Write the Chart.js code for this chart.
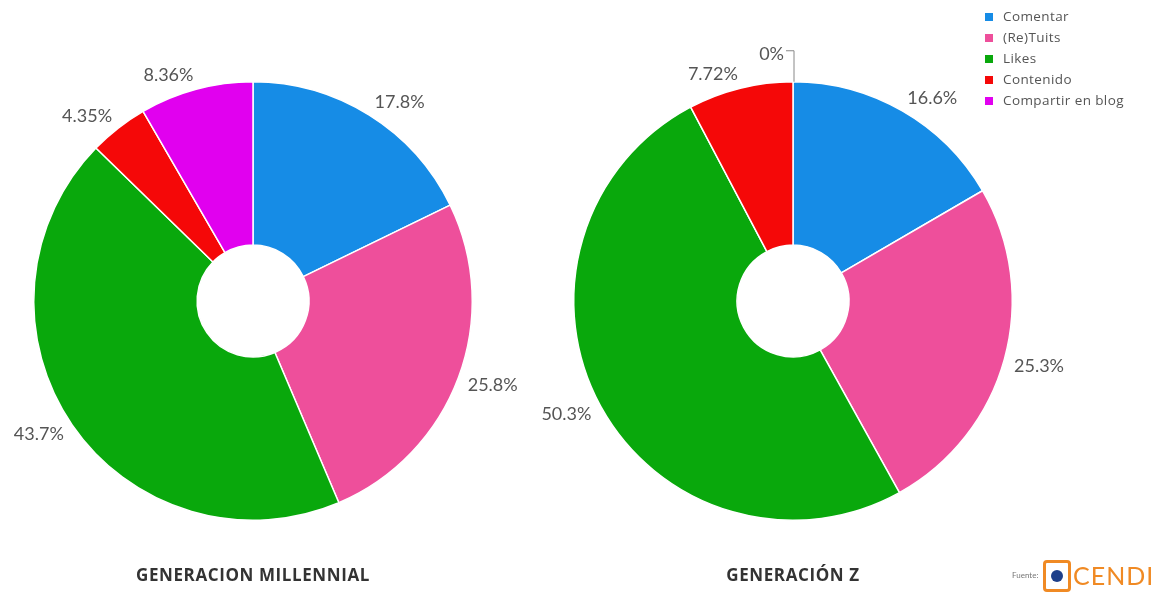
<!DOCTYPE html>
<html>
<head>
<meta charset="utf-8">
<script src="https://cdn.jsdelivr.net/npm/chart.js@4.4.1/dist/chart.umd.min.js"></script>
<style>
  body { margin: 0; background: #fff; width: 1151px; height: 601px; position: relative; overflow: hidden; font-family: Lato, "Open Sans", sans-serif; }
  canvas { position: absolute; top: 0; }
  #grafMillennial { left: 0; }
  #grafZ { left: 540px; }
  #leyenda { position: absolute; left: 985px; top: 6px; font-family: "Open Sans", sans-serif; font-size: 13.5px; letter-spacing: 0.4px; color: #555; }
  #leyenda div { height: 21px; line-height: 21px; white-space: nowrap; }
  #leyenda span { display: inline-block; width: 8px; height: 8px; margin-right: 10px; vertical-align: 0px; }
  #fuente { position: absolute; left: 1012px; top: 570px; font-size: 8px; color: #777; }
  #logo { position: absolute; left: 1043px; top: 560px; width: 22px; height: 26px; border: 3px solid #f08a24; border-radius: 4px; }
  #logo i { position: absolute; left: 5px; top: 7px; width: 12px; height: 12px; border-radius: 50%; background: #1d3f8a; }
  #cendi { position: absolute; left: 1073px; top: 560px; font-size: 25px; color: #f08a24; letter-spacing: 1px; }
</style>
</head>
<body>
<canvas id="grafMillennial" width="540" height="601"></canvas>
<canvas id="grafZ" width="611" height="601"></canvas>
<div id="leyenda"></div>
<div id="fuente">Fuente:</div>
<div id="logo"><i></i></div>
<div id="cendi">CENDI</div>
<script>
var categorias = ["Comentar", "(Re)Tuits", "Likes", "Contenido", "Compartir en blog"];
var millennial = [17.8, 25.8, 43.7, 4.35, 8.36];
var generacionZ = [16.6, 25.3, 50.3, 7.72, 0];
var colores = ["#168ce6", "#ee4f9b", "#09a80c", "#f50808", "#e100ef"];
var titulos = ["GENERACION MILLENNIAL", "GENERACIÓN Z"];

// leyenda en html
var leyenda = document.getElementById("leyenda");
categorias.forEach(function (c, i) {
  var fila = document.createElement("div");
  fila.innerHTML = '<span style="background:' + colores[i] + '"></span>' + c;
  leyenda.appendChild(fila);
});

// etiquetas de porcentaje fuera de cada porcion + titulo abajo
var etiquetas = {
  id: "etiquetas",
  afterDraw: function (chart) {
    var ctx = chart.ctx;
    var meta = chart.getDatasetMeta(0);
    var valores = chart.data.datasets[0].data;
    ctx.save();
    ctx.font = "18px Lato";
    ctx.fillStyle = "#555";
    ctx.textBaseline = "middle";
    meta.data.forEach(function (arc, i) {
      var txt = valores[i] + "%";
      var r = arc.outerRadius;
      if (valores[i] === 0) {
        var xTop = arc.x + 1, yTop = arc.y - r;
        ctx.strokeStyle = "#888";
        ctx.lineWidth = 1;
        ctx.beginPath();
        ctx.moveTo(xTop, yTop);
        ctx.lineTo(xTop, yTop - 31);
        ctx.lineTo(xTop - 8, yTop - 31);
        ctx.stroke();
        ctx.textAlign = "right";
        ctx.fillText(txt, xTop - 10, yTop - 28);
        return;
      }
      var m = (arc.startAngle + arc.endAngle) / 2;
      var ax = arc.x + (r + 10) * Math.cos(m);
      var ay = arc.y + (r + 10) * Math.sin(m);
      var w = ctx.measureText(txt).width;
      var c = Math.cos(m), s = Math.sin(m);
      var x = ax + (Math.abs(c) > 0.05 ? Math.sign(c) * w / 2 : 0);
      var y = ay + Math.sign(s) * 4;
      ctx.textAlign = "center";
      ctx.fillText(txt, x, y);
    });
    ctx.font = "bold 17px 'Open Sans'";
    ctx.letterSpacing = "0.6px";
    ctx.fillStyle = "#333";
    ctx.textAlign = "center";
    ctx.fillText(chart.options.plugins.etiquetas.titulo, meta.data[0].x, 576);
    ctx.restore();
  }
};

var crearGrafico = function (id, datos, titulo, padRight) {
  var ctx = document.getElementById(id);
  return new Chart(ctx, {
    type: "doughnut",
    data: {
      labels: categorias,
      datasets: [{
        data: datos,
        backgroundColor: colores,
        borderColor: "#fff",
        borderWidth: 1.5
      }]
    },
    options: {
      responsive: false,
      animation: false,
      cutout: "25.5%",
      layout: { padding: { left: 33, right: padRight, top: 81, bottom: 80 } },
      plugins: {
        legend: { display: false },
        tooltip: { enabled: false },
        etiquetas: { titulo: titulo }
      }
    },
    plugins: [etiquetas]
  });
};

crearGrafico("grafMillennial", millennial, titulos[0], 67);
crearGrafico("grafZ", generacionZ, titulos[1], 138);
</script>
</body>
</html>
